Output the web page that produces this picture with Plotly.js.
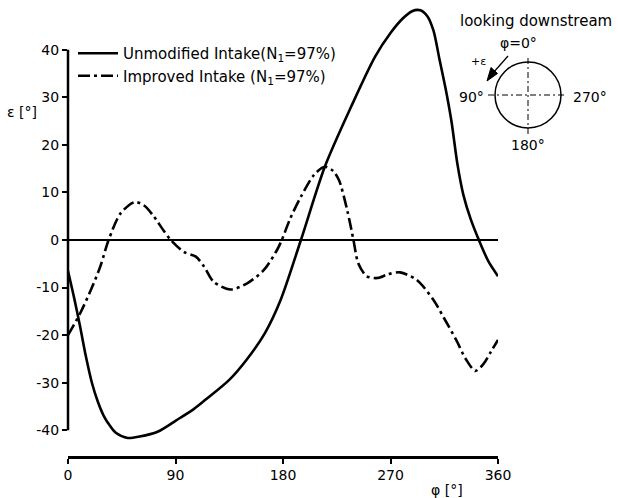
<!DOCTYPE html>
<html>
<head>
<meta charset="utf-8">
<script src="https://cdn.plot.ly/plotly-3.0.1.min.js"></script>
<style>html,body{margin:0;padding:0;background:#fff;}#chart{width:618px;height:498px;}</style>
</head>
<body>
<div id="chart"></div>
<script>
// Data
var phiUnmod = [0,5,10,15,20,25,30,35,40,50,60,75,90,105,115,135,150,165,178,195,215,237,257,270,280,288,295,301,306,311,316,321,326,331,337,344,352,360];
var epsUnmod = [-6.5,-12,-18,-24.5,-30,-34,-37,-39,-40.5,-41.6,-41.3,-40.3,-38,-35.6,-33.6,-29.4,-25,-19.5,-12.6,0,15.4,28,38.5,43.5,46.5,48.1,48.3,47,44,38,32,25,16,9.5,4.5,0,-4.5,-7.6];

var phiImpr = [0,10,20,27,34,44,56,64,72,80,86,97,107,114,122,136,150,164,175,179,186,195,206,215,222,227,234,239,243,250,259,268,278,292,306,315,325,333,341,348,354,360];
var epsImpr = [-20,-15.5,-10,-5.6,0,5.6,8,7.2,4.9,2,0,-2.5,-3.5,-5.6,-8.8,-10.4,-9.1,-6.3,-2.1,0,4.5,9.1,13.7,15.4,14.5,12.5,6,0,-4.9,-7.6,-8,-7.2,-6.8,-8.4,-12.6,-16.5,-21,-25,-27.5,-26,-23.5,-21];

var xTicks = [0,90,180,270,360];
var xTickText = ['0','90','180','270','360'];
var yTicks = [-40,-30,-20,-10,0,10,20,30,40];
var yTickText = ['-40','-30','-20','-10','0','10','20','30','40'];

var seriesNames = ['Unmodified Intake(N<sub>1</sub>=97%)', 'Improved Intake (N<sub>1</sub>=97%)'];

var FONT = 'DejaVu Sans, sans-serif';
var ML = 68, MR = 120, MT = 5, MB = 42, W = 618, H = 498;
var PW = W - ML - MR, PH = H - MT - MB;
function px(x){ return (x - ML) / PW; }
function py(y){ return (H - MB - y) / PH; }

var traces = [
  {x: phiUnmod, y: epsUnmod, name: seriesNames[0], mode: 'lines',
   line: {color: '#000', width: 2.6, shape: 'spline', smoothing: 0.8}},
  {x: phiImpr, y: epsImpr, name: seriesNames[1], mode: 'lines',
   line: {color: '#000', width: 2.6, shape: 'spline', smoothing: 0.8, dash: '12px,4px,3px,4px'}}
];

var ann = [];
function txt(t, x, y, size, xa){
  ann.push({text: t, xref: 'paper', yref: 'paper', x: px(x), y: py(y), showarrow: false,
            xanchor: xa || 'center', yanchor: 'middle', font: {family: FONT, size: size, color: '#000'}});
}
txt('ε [°]', 22, 112, 14);
txt('φ [°]', 447, 490, 14);
txt('looking downstream', 536, 21, 15);
txt('φ=0°', 518, 43, 14);
txt('+ε', 478, 62, 11);
txt('90°', 471, 97, 14);
txt('270°', 590, 97, 14);
txt('180°', 528, 145, 14);

function P(x, y){ return px(x).toFixed(5) + ',' + py(y).toFixed(5); }

var cx = px(528), cy = py(95);
var shapes = [
  // y axis line from -40 to 40
  {type: 'line', xref: 'paper', yref: 'y', x0: 0, x1: 0, y0: -40, y1: 40, line: {color: '#000', width: 2.5}},
  // inset circle
  {type: 'circle', xref: 'paper', yref: 'paper', xsizemode: 'pixel', ysizemode: 'pixel',
   xanchor: cx, yanchor: cy, x0: -33, x1: 33, y0: -33, y1: 33, line: {color: '#000', width: 1.5}},
  {type: 'line', xref: 'paper', yref: 'paper', xsizemode: 'pixel', ysizemode: 'pixel',
   xanchor: cx, yanchor: cy, x0: 0, x1: 0, y0: -39, y1: 40, line: {color: '#000', width: 1, dash: '6px,3px,2px,3px'}},
  {type: 'line', xref: 'paper', yref: 'paper', xsizemode: 'pixel', ysizemode: 'pixel',
   xanchor: cx, yanchor: cy, x0: -40, x1: 39, y0: 0, y1: 0, line: {color: '#000', width: 1, dash: '6px,3px,2px,3px'}},
  // direction arrow (+ε)
  {type: 'line', xref: 'paper', yref: 'paper', x0: px(508), y0: py(56), x1: px(493), y1: py(73),
   line: {color: '#000', width: 1.3}},
  {type: 'path', xref: 'paper', yref: 'paper',
   path: 'M' + P(487, 81) + 'L' + P(497.5, 73.5) + 'L' + P(491, 67.5) + 'Z',
   fillcolor: '#000', line: {color: '#000', width: 1}}
];

var layout = {
  width: W, height: H,
  margin: {l: ML, r: MR, t: MT, b: MB, pad: 0},
  paper_bgcolor: '#fff', plot_bgcolor: '#fff',
  font: {family: FONT, size: 14, color: '#000'},
  showlegend: true,
  legend: {x: px(73), y: py(37), xanchor: 'left', yanchor: 'top', bgcolor: 'rgba(0,0,0,0)',
           itemwidth: 40, font: {family: FONT, size: 15, color: '#000'}, tracegroupgap: 0},
  xaxis: {range: [0, 360], tickvals: xTicks, ticktext: xTickText, ticks: 'outside', ticklen: 5,
          tickwidth: 2, tickcolor: '#000', showline: true, linecolor: '#000', linewidth: 2.5,
          showgrid: false, zeroline: false, tickfont: {family: FONT, size: 14}, fixedrange: true},
  yaxis: {range: [-45.4, 49.4], tickvals: yTicks, ticktext: yTickText, ticks: 'outside', ticklen: 5,
          tickwidth: 2, tickcolor: '#000', showline: false, showgrid: false,
          zeroline: true, zerolinecolor: '#000', zerolinewidth: 2.5,
          tickfont: {family: FONT, size: 14}, fixedrange: true},
  annotations: ann,
  shapes: shapes
};

Plotly.newPlot('chart', traces, layout, {staticPlot: true, displayModeBar: false});
</script>
</body>
</html>
